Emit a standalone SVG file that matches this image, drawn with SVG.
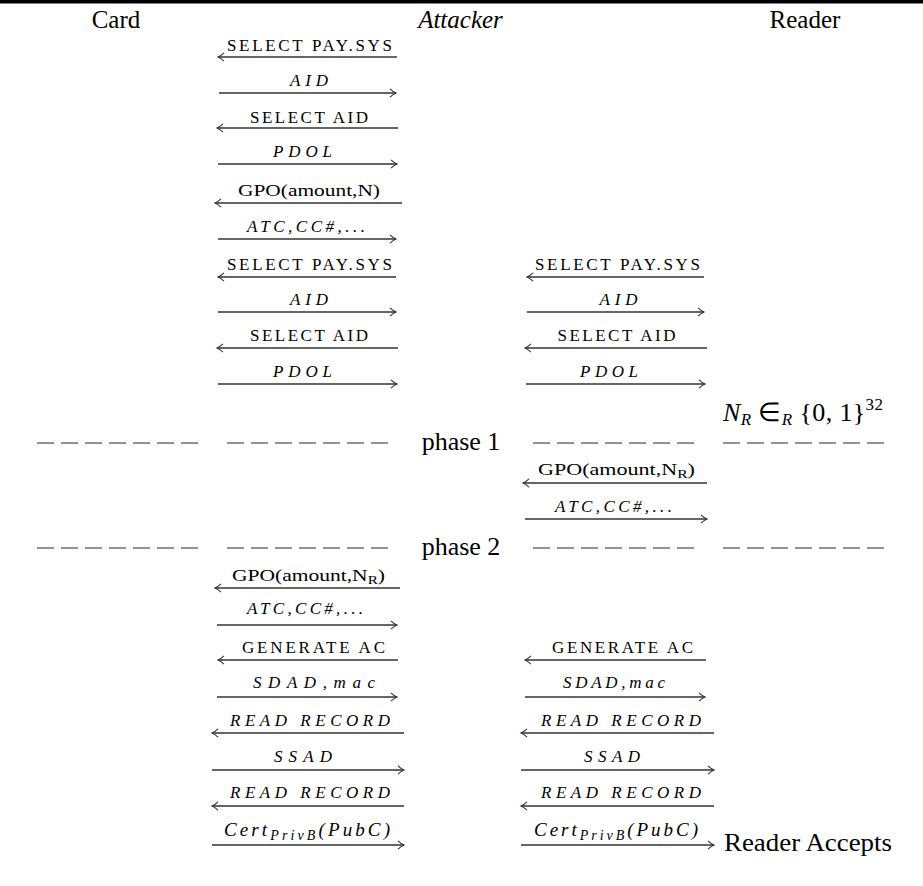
<svg xmlns="http://www.w3.org/2000/svg" width="923" height="886" viewBox="0 0 923 886">
<style>
text{font-family:"Liberation Serif","Times New Roman",serif;fill:#000}
.hd{font-size:25px}
.sc{font-size:17px}
.it{font-size:17px;font-style:italic}
.up{font-size:17px}
.big{font-size:26px}
.ct{font-size:19px;font-style:italic}
.msg{stroke:#333;stroke-width:1.3;fill:none}
.sep{stroke:#6f6f6f;stroke-width:1.4;stroke-dasharray:17 7;fill:none}
</style>
<defs>
<marker id="ah" viewBox="-8 -5 10 10" refX="0" refY="0" markerWidth="10" markerHeight="10" orient="auto" markerUnits="userSpaceOnUse">
<path d="M-6,-4.2 C-3.5,-1.8 -1.5,-0.6 0,0 C-1.5,0.6 -3.5,1.8 -6,4.2" fill="none" stroke="#333" stroke-width="1.1"/>
</marker>
</defs>
<rect x="0" y="0" width="923" height="3.5" fill="#000"/>

<g id="card"><text class="hd" x="116" y="28" text-anchor="middle">Card</text></g>
<g id="attacker"><text class="hd" x="460.5" y="28" text-anchor="middle" font-style="italic">Attacker</text></g>
<g id="reader"><text class="hd" x="805" y="28" text-anchor="middle">Reader</text></g>

<g id="separators">
<line class="sep" x1="37" y1="443" x2="200" y2="443"/>
<line class="sep" x1="227" y1="443" x2="390" y2="443"/>
<line class="sep" x1="533" y1="443" x2="696" y2="443"/>
<line class="sep" x1="723" y1="443" x2="886" y2="443"/>
<text class="big" x="461" y="450" text-anchor="middle">phase 1</text>
<line class="sep" x1="37" y1="548" x2="200" y2="548"/>
<line class="sep" x1="227" y1="548" x2="390" y2="548"/>
<line class="sep" x1="533" y1="548" x2="696" y2="548"/>
<line class="sep" x1="723" y1="548" x2="886" y2="548"/>
<text class="big" x="461" y="555" text-anchor="middle">phase 2</text>
</g>

<g id="reader-notes">
<text class="big" x="723" y="421" textLength="160" lengthAdjust="spacing"><tspan font-style="italic">N</tspan><tspan font-size="17" font-style="italic" dy="4">R</tspan><tspan dy="-4"> ∈</tspan><tspan font-size="17" font-style="italic" dy="4">R</tspan><tspan dy="-4"> {0, 1}</tspan><tspan font-size="17" dy="-11">32</tspan></text>
<text class="big" x="724" y="851" textLength="168" lengthAdjust="spacingAndGlyphs">Reader Accepts</text>
</g>

<g id="connectors">
<!-- block A: card-attacker -->
<line class="msg" x1="397" y1="57" x2="218" y2="57" marker-end="url(#ah)"/>
<text class="sc" x="309.5" y="51" text-anchor="middle" textLength="165" lengthAdjust="spacing">SELECT PAY.SYS</text>
<line class="msg" x1="219" y1="93" x2="396" y2="93" marker-end="url(#ah)"/>
<text class="it" x="309" y="86" text-anchor="middle" textLength="38" lengthAdjust="spacing">AID</text>
<line class="msg" x1="398" y1="128" x2="217" y2="128" marker-end="url(#ah)"/>
<text class="sc" x="309" y="123" text-anchor="middle" textLength="118" lengthAdjust="spacing">SELECT AID</text>
<line class="msg" x1="218" y1="164" x2="397" y2="164" marker-end="url(#ah)"/>
<text class="it" x="302.5" y="157" text-anchor="middle" textLength="59" lengthAdjust="spacing">PDOL</text>
<line class="msg" x1="402" y1="203" x2="215" y2="203" marker-end="url(#ah)"/>
<text class="up" x="309" y="196" text-anchor="middle" textLength="142" lengthAdjust="spacingAndGlyphs">GPO(amount,N)</text>
<line class="msg" x1="218" y1="239" x2="396" y2="239" marker-end="url(#ah)"/>
<text class="it" x="306" y="232" text-anchor="middle" textLength="118" lengthAdjust="spacing">ATC,CC#,...</text>

<!-- block B -->
<line class="msg" x1="396" y1="277" x2="218" y2="277" marker-end="url(#ah)"/>
<text class="sc" x="309.5" y="270" text-anchor="middle" textLength="165" lengthAdjust="spacing">SELECT PAY.SYS</text>
<line class="msg" x1="704" y1="277" x2="527" y2="277" marker-end="url(#ah)"/>
<text class="sc" x="617.5" y="270" text-anchor="middle" textLength="165" lengthAdjust="spacing">SELECT PAY.SYS</text>
<line class="msg" x1="218" y1="312" x2="396" y2="312" marker-end="url(#ah)"/>
<text class="it" x="309" y="305" text-anchor="middle" textLength="38" lengthAdjust="spacing">AID</text>
<line class="msg" x1="527" y1="312" x2="704" y2="312" marker-end="url(#ah)"/>
<text class="it" x="618.5" y="305" text-anchor="middle" textLength="38" lengthAdjust="spacing">AID</text>
<line class="msg" x1="398" y1="348" x2="217" y2="348" marker-end="url(#ah)"/>
<text class="sc" x="309" y="341" text-anchor="middle" textLength="118" lengthAdjust="spacing">SELECT AID</text>
<line class="msg" x1="707" y1="348" x2="525" y2="348" marker-end="url(#ah)"/>
<text class="sc" x="616.5" y="341" text-anchor="middle" textLength="118" lengthAdjust="spacing">SELECT AID</text>
<line class="msg" x1="218" y1="384" x2="397" y2="384" marker-end="url(#ah)"/>
<text class="it" x="302.5" y="377" text-anchor="middle" textLength="59" lengthAdjust="spacing">PDOL</text>
<line class="msg" x1="526" y1="384" x2="705" y2="384" marker-end="url(#ah)"/>
<text class="it" x="609" y="377" text-anchor="middle" textLength="58" lengthAdjust="spacing">PDOL</text>

<!-- phase 1: reader-attacker -->
<line class="msg" x1="707" y1="483" x2="523" y2="483" marker-end="url(#ah)"/>
<text class="up" x="538" y="475" textLength="157" lengthAdjust="spacingAndGlyphs">GPO(amount,N<tspan font-size="12" dy="3">R</tspan><tspan dy="-3">)</tspan></text>
<line class="msg" x1="525" y1="519" x2="707" y2="519" marker-end="url(#ah)"/>
<text class="it" x="613.5" y="512" text-anchor="middle" textLength="117" lengthAdjust="spacing">ATC,CC#,...</text>

<!-- phase 2 -->
<line class="msg" x1="400" y1="588" x2="215" y2="588" marker-end="url(#ah)"/>
<text class="up" x="232" y="581" textLength="153" lengthAdjust="spacingAndGlyphs">GPO(amount,N<tspan font-size="12" dy="3">R</tspan><tspan dy="-3">)</tspan></text>
<line class="msg" x1="217" y1="625" x2="397" y2="625" marker-end="url(#ah)"/>
<text class="it" x="305" y="614" text-anchor="middle" textLength="116" lengthAdjust="spacing">ATC,CC#,...</text>
<line class="msg" x1="398" y1="660" x2="218" y2="660" marker-end="url(#ah)"/>
<text class="sc" x="313.5" y="653" text-anchor="middle" textLength="143" lengthAdjust="spacing">GENERATE AC</text>
<line class="msg" x1="706" y1="660" x2="525" y2="660" marker-end="url(#ah)"/>
<text class="sc" x="622.5" y="653" text-anchor="middle" textLength="141" lengthAdjust="spacing">GENERATE AC</text>
<line class="msg" x1="217" y1="697" x2="397" y2="697" marker-end="url(#ah)"/>
<text class="it" x="314" y="688" text-anchor="middle" textLength="122" lengthAdjust="spacing">SDAD,mac</text>
<line class="msg" x1="525" y1="697" x2="705" y2="697" marker-end="url(#ah)"/>
<text class="it" x="614" y="688" text-anchor="middle" textLength="102" lengthAdjust="spacing">SDAD,mac</text>
<line class="msg" x1="404" y1="733" x2="212" y2="733" marker-end="url(#ah)"/>
<text class="it" x="310" y="726" text-anchor="middle" textLength="160" lengthAdjust="spacing">READ RECORD</text>
<line class="msg" x1="714" y1="733" x2="521" y2="733" marker-end="url(#ah)"/>
<text class="it" x="621" y="726" text-anchor="middle" textLength="160" lengthAdjust="spacing">READ RECORD</text>
<line class="msg" x1="212" y1="770" x2="404" y2="770" marker-end="url(#ah)"/>
<text class="it" x="303" y="762" text-anchor="middle" textLength="58" lengthAdjust="spacing">SSAD</text>
<line class="msg" x1="521" y1="770" x2="714" y2="770" marker-end="url(#ah)"/>
<text class="it" x="612" y="762" text-anchor="middle" textLength="56" lengthAdjust="spacing">SSAD</text>
<line class="msg" x1="404" y1="806" x2="212" y2="806" marker-end="url(#ah)"/>
<text class="it" x="310" y="798" text-anchor="middle" textLength="160" lengthAdjust="spacing">READ RECORD</text>
<line class="msg" x1="714" y1="806" x2="521" y2="806" marker-end="url(#ah)"/>
<text class="it" x="621" y="798" text-anchor="middle" textLength="160" lengthAdjust="spacing">READ RECORD</text>
<line class="msg" x1="212" y1="845" x2="404" y2="845" marker-end="url(#ah)"/>
<text class="ct" x="224" y="836" textLength="166" lengthAdjust="spacing">Cert<tspan font-size="14" dy="4">PrivB</tspan><tspan dy="-4">(PubC)</tspan></text>
<line class="msg" x1="521" y1="845" x2="714" y2="845" marker-end="url(#ah)"/>
<text class="ct" x="534" y="836" textLength="164" lengthAdjust="spacing">Cert<tspan font-size="14" dy="4">PrivB</tspan><tspan dy="-4">(PubC)</tspan></text>
</g>
</svg>
